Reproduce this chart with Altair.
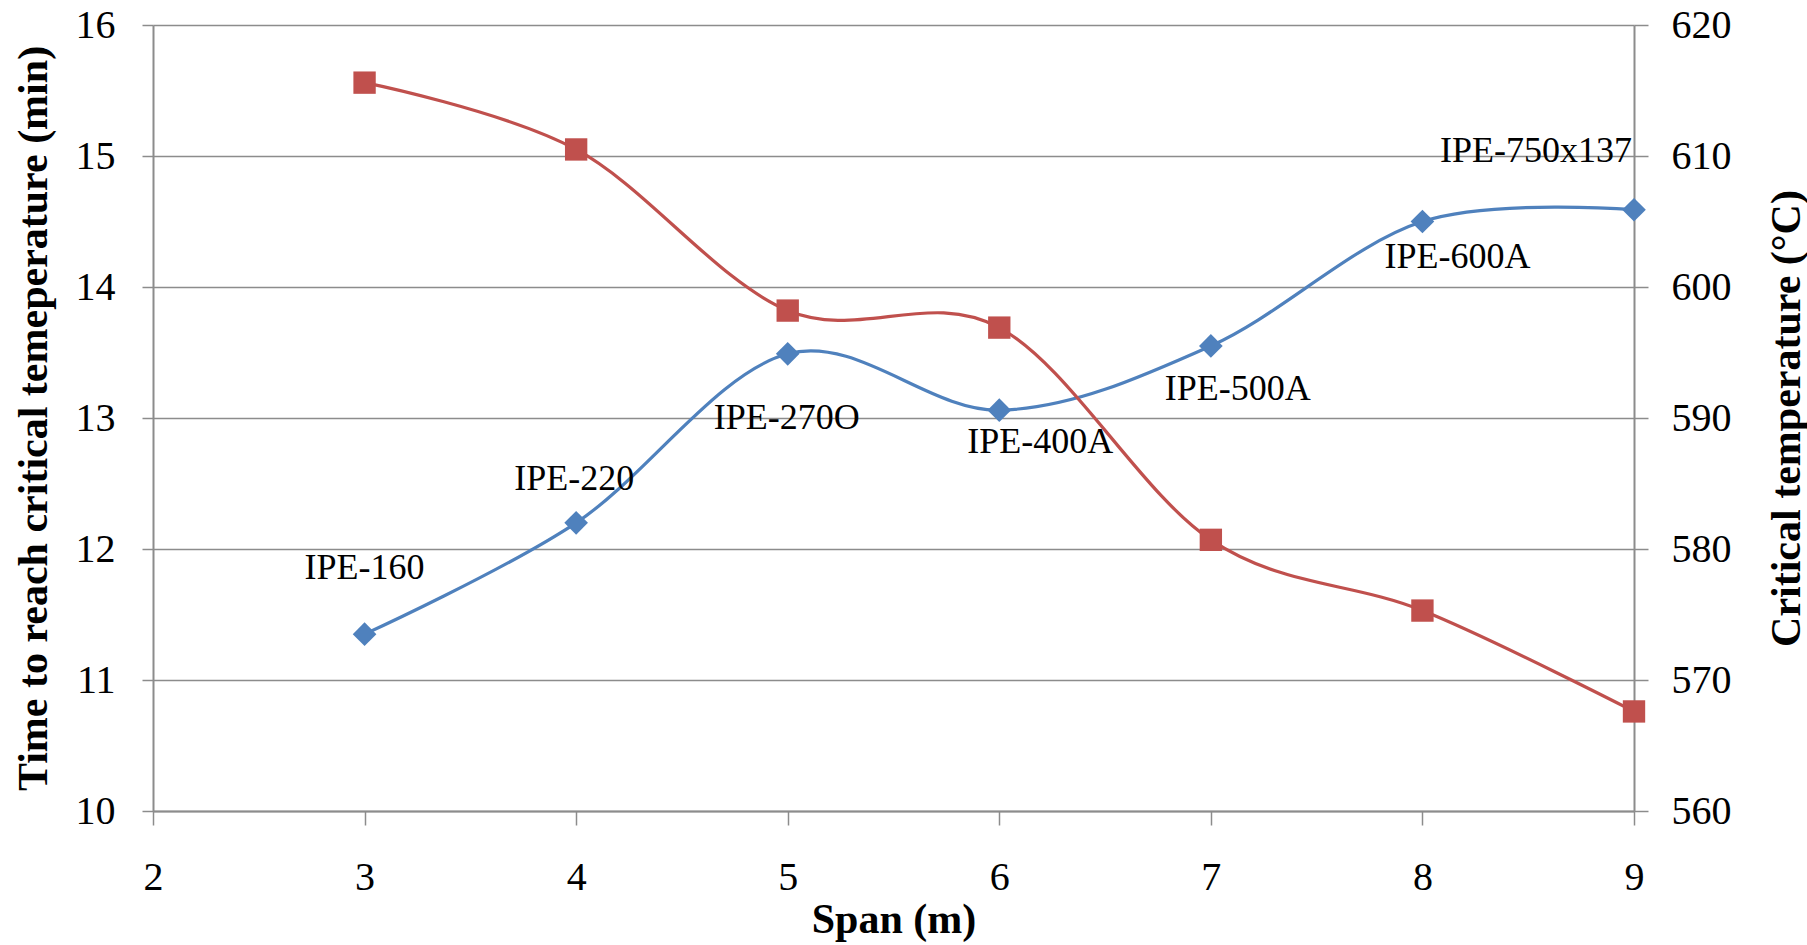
import altair as alt
import pandas as pd

# Beam span (m) and the section used at each span
span = [3, 4, 5, 6, 7, 8, 9]
section = ["IPE-160", "IPE-220", "IPE-270O", "IPE-400A", "IPE-500A", "IPE-600A", "IPE-750x137"]
# Time to reach critical temperature (min)
time_min = [11.35, 12.20, 13.49, 13.06, 13.55, 14.50, 14.59]
# Critical temperature (°C)
crit_temp = [615.6, 610.5, 598.2, 596.9, 580.7, 575.3, 567.6]

df = pd.DataFrame({"span": span, "section": section, "time": time_min, "temp": crit_temp})

FONT = "Liberation Serif"
BLUE = "#4F81BD"
RED = "#C0504D"
GRID = "#8C8C8C"
TICK_FS = 40
TITLE_FS = 42
PLOT_H = 786

x_enc = alt.X(
    "span:Q",
    title="Span (m)",
    scale=alt.Scale(domain=[2, 9], nice=False, zero=False),
    axis=alt.Axis(
        values=[2, 3, 4, 5, 6, 7, 8, 9],
        format="d",
        labelFlush=False,
        labelOverlap=False,
        grid=False,
        domainColor=GRID,
        domainWidth=2,
        tickColor=GRID,
        tickWidth=1.5,
        tickSize=14,
        labelPadding=32,
        labelFont=FONT,
        labelFontSize=TICK_FS,
        labelColor="#000000",
        titleFont=FONT,
        titleFontSize=TITLE_FS,
        titleFontWeight="bold",
        titleColor="#000000",
        titlePadding=2,
    ),
)

y_left = alt.Y(
    "time:Q",
    title="Time to reach critical temeperature (min)",
    scale=alt.Scale(domain=[10, 16], nice=False, zero=False),
    axis=alt.Axis(
        values=[10, 11, 12, 13, 14, 15, 16],
        format="d",
        grid=True,
        gridColor=GRID,
        gridWidth=1.5,
        domainColor=GRID,
        domainWidth=2,
        tickColor=GRID,
        tickWidth=1.5,
        tickSize=11,
        labelPadding=27,
        labelFont=FONT,
        labelFontSize=TICK_FS,
        labelColor="#000000",
        titleFont=FONT,
        titleFontSize=TITLE_FS,
        titleFontWeight="bold",
        titleColor="#000000",
        titleAngle=270,
        titleAlign="center",
        titleBaseline="middle",
        titleX=-120,
        titleY=PLOT_H / 2,
    ),
)

y_right = alt.Y(
    "temp:Q",
    title="Critical temperature  (°C)",
    scale=alt.Scale(domain=[560, 620], nice=False, zero=False),
    axis=alt.Axis(
        orient="right",
        values=[560, 570, 580, 590, 600, 610, 620],
        format="d",
        grid=False,
        domainColor=GRID,
        domainWidth=2,
        tickColor=GRID,
        tickWidth=1.5,
        tickSize=14,
        labelPadding=23,
        labelFont=FONT,
        labelFontSize=TICK_FS,
        labelColor="#000000",
        titleFont=FONT,
        titleFontSize=TITLE_FS,
        titleFontWeight="bold",
        titleColor="#000000",
        titleAngle=270,
        titleAlign="center",
        titleBaseline="middle",
        titleX=152,
        titleY=PLOT_H / 2,
    ),
)

base = alt.Chart(df)

time_line = base.mark_line(
    color=BLUE, strokeWidth=3.2, interpolate="cardinal", tension=0
).encode(x=x_enc, y=y_left)
time_pts = base.mark_point(
    shape="diamond", filled=True, size=560, color=BLUE, opacity=1
).encode(x="span:Q", y="time:Q")

# Section labels placed around each time point
label_offsets = {
    "IPE-160": (0, -66),
    "IPE-220": (-2, -44),
    "IPE-270O": (-1, 64),
    "IPE-400A": (41, 32),
    "IPE-500A": (27, 43),
    "IPE-600A": (35, 35),
    "IPE-750x137": (-98, -59),
}
labels = []
for name, (dx, dy) in label_offsets.items():
    labels.append(
        base.transform_filter(alt.datum.section == name)
        .mark_text(font=FONT, fontSize=36, color="#000000", dx=dx, dy=dy, baseline="middle", align="center")
        .encode(x="span:Q", y="time:Q", text="section:N")
    )

left = alt.layer(time_line, time_pts, *labels)

temp_line = base.mark_line(
    color=RED, strokeWidth=3.2, interpolate="cardinal", tension=0
).encode(x="span:Q", y=y_right)
temp_pts = base.mark_point(
    shape="square", filled=True, size=500, color=RED, opacity=1
).encode(x="span:Q", y="temp:Q")
right = alt.layer(temp_line, temp_pts)

chart = (
    alt.layer(left, right)
    .resolve_scale(y="independent")
    .properties(
        width=1481,
        height=PLOT_H,
        autosize=alt.AutoSizeParams(type="none"),
        padding={"left": 153, "top": 25, "right": 173, "bottom": 134},
        background="#FFFFFF",
    )
    .configure_view(stroke=None)
)

chart.save("out.html", embed_options={"renderer": "svg", "actions": False})
